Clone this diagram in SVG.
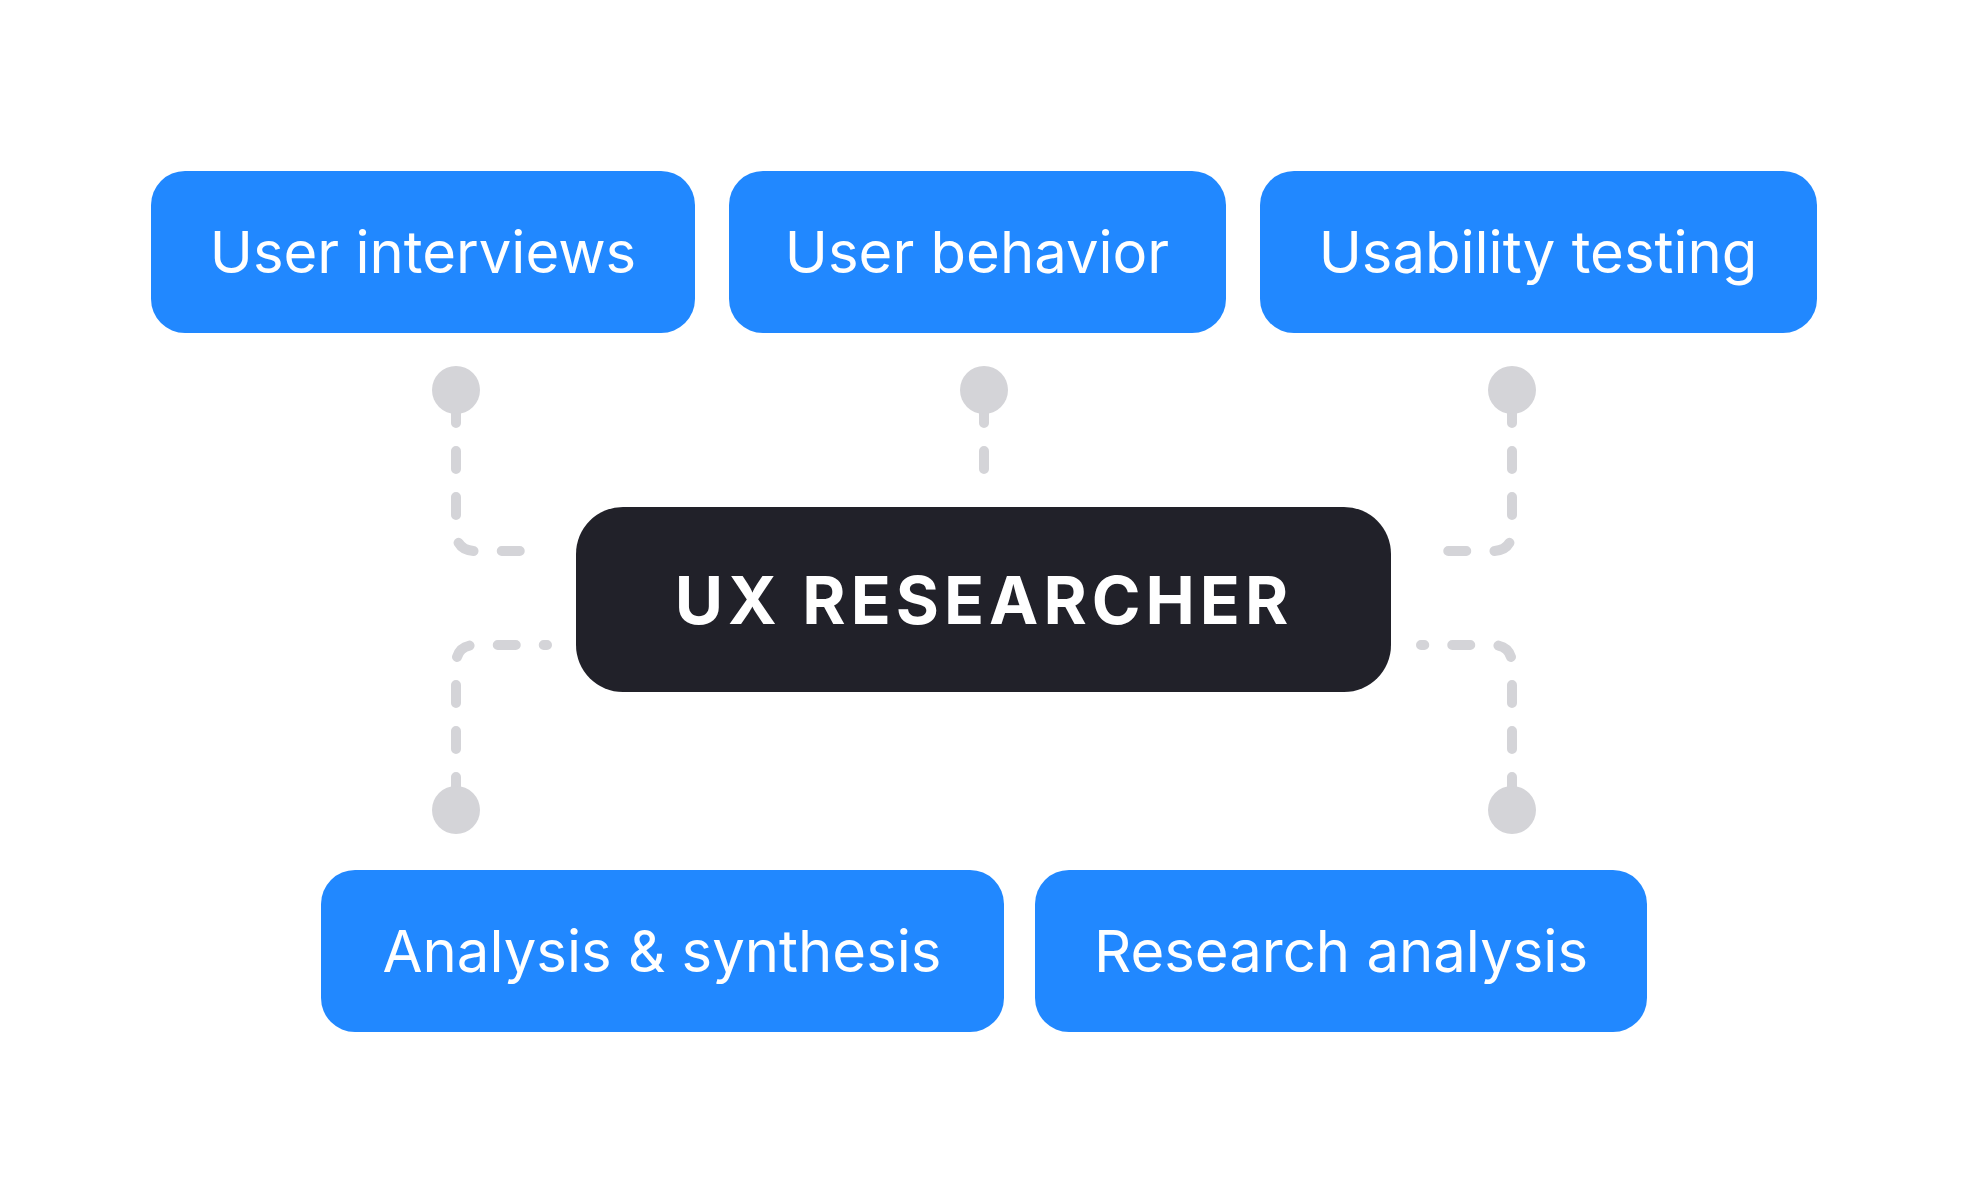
<svg xmlns="http://www.w3.org/2000/svg" width="1968" height="1200" viewBox="0 0 1968 1200">
<style>
.n{fill:#2188ff}
.t{fill:#fff;font-family:Inter,"Noto Sans",sans-serif;font-size:58px;text-anchor:middle;dominant-baseline:central}
.c{fill:none;stroke:#d4d4d8;stroke-width:10;stroke-linecap:round;stroke-dasharray:18 28}
.d{fill:#d4d4d8}
</style>
<rect width="1968" height="1200" fill="#fff"/>
<g id="connectors">
<path class="c" d="M456 405V531Q456 551 476 551H547"/>
<path class="c" d="M984 405V492"/>
<path class="c" d="M1512 405V531Q1512 551 1492 551H1421"/>
<path class="c" d="M456 795V665Q456 645 476 645H547"/>
<path class="c" d="M1512 795V665Q1512 645 1492 645H1421"/>
<circle class="d" cx="456" cy="390" r="24"/>
<circle class="d" cx="984" cy="390" r="24"/>
<circle class="d" cx="1512" cy="390" r="24"/>
<circle class="d" cx="456" cy="810" r="24"/>
<circle class="d" cx="1512" cy="810" r="24"/>
</g>
<g id="n1"><rect class="n" x="151" y="171" width="544" height="162" rx="34"/><text class="t" x="423" y="252">User interviews</text></g>
<g id="n2"><rect class="n" x="729" y="171" width="497" height="162" rx="34"/><text class="t" x="977" y="252">User behavior</text></g>
<g id="n3"><rect class="n" x="1260" y="171" width="557" height="162" rx="34"/><text class="t" x="1538" y="252">Usability testing</text></g>
<g id="center"><rect x="576" y="507" width="815" height="185" rx="47" fill="#212129"/><text x="984" y="600" fill="#fff" font-family="Inter,'Noto Sans',sans-serif" font-size="66" font-weight="700" letter-spacing="5" text-anchor="middle" dominant-baseline="central">UX RESEARCHER</text></g>
<g id="n4"><rect class="n" x="321" y="870" width="683" height="162" rx="34"/><text class="t" x="662" y="951">Analysis &amp; synthesis</text></g>
<g id="n5"><rect class="n" x="1035" y="870" width="612" height="162" rx="34"/><text class="t" x="1341" y="951">Research analysis</text></g>
</svg>
